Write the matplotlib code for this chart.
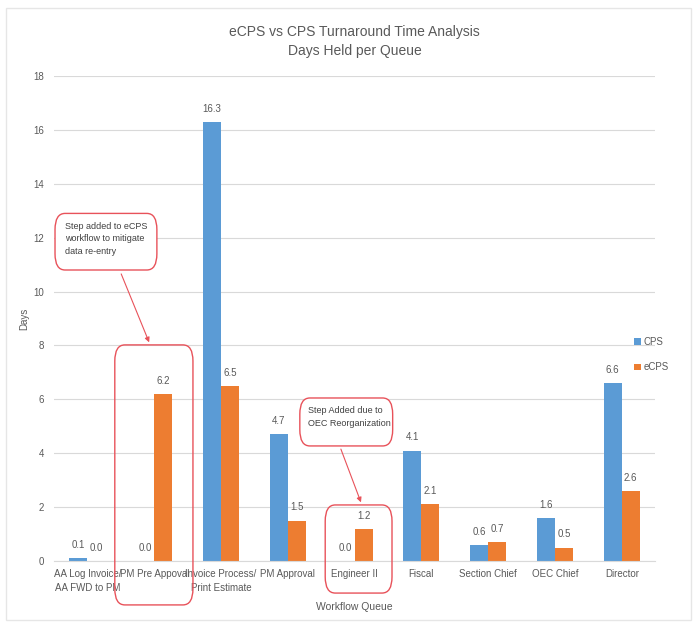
import numpy as np
import matplotlib.pyplot as plt
from matplotlib.patches import FancyBboxPatch, Rectangle

plt.rcParams['font.family'] = ['Liberation Sans', 'DejaVu Sans']

# Days held per queue
queues = ['AA Log Invoice/\nAA FWD to PM', 'PM Pre Appoval', 'Invoice Process/\nPrint Estimate',
          'PM Approval', 'Engineer II', 'Fiscal', 'Section Chief', 'OEC Chief', 'Director']
cps = [0.1, 0.0, 16.3, 4.7, 0.0, 4.1, 0.6, 1.6, 6.6]
ecps = [0.0, 6.2, 6.5, 1.5, 1.2, 2.1, 0.7, 0.5, 2.6]

blue = '#5B9BD5'
orange = '#ED7D31'
grey = '#595959'
red = '#E8525A'

fig = plt.figure(figsize=(6.97, 6.25), dpi=100)
ax = fig.add_axes([0.0775, 0.1024, 0.8625, 0.776])

# light frame round the chart
fig.patches.append(Rectangle((0.008, 0.008), 0.984, 0.98, transform=fig.transFigure,
                             fill=False, edgecolor='#E6E6E6', lw=1))

x = np.arange(len(queues))
w = 0.27
b1 = ax.bar(x - w / 2, cps, w, color=blue, label='CPS')
b2 = ax.bar(x + w / 2, ecps, w, color=orange, label='eCPS')

for bars, vals in [(b1, cps), (b2, ecps)]:
    for r, v in zip(bars, vals):
        ax.text(r.get_x() + r.get_width() / 2, v + 0.3, '%.1f' % v,
                ha='center', va='bottom', fontsize=7, color=grey)

ax.set_xlim(-0.5, len(queues) - 0.5)
ax.set_ylim(0, 18)
ax.set_yticks(np.arange(0, 19, 2))
ax.set_xticks(x)
ax.set_xticklabels(queues, fontsize=6.8, color=grey, va='top', linespacing=1.4)
ax.tick_params(axis='both', length=0, labelsize=7, labelcolor=grey)
ax.tick_params(axis='x', pad=6)
ax.tick_params(axis='y', pad=7)
ax.yaxis.grid(True, color='#D9D9D9', lw=0.8)
ax.set_axisbelow(True)
for s in ['top', 'right', 'left']:
    ax.spines[s].set_visible(False)
ax.spines['bottom'].set_color('#D9D9D9')

ax.set_ylabel('Days', fontsize=7, color=grey, labelpad=3)
ax.set_xlabel('Workflow Queue', fontsize=7.5, color=grey, labelpad=7)
ax.set_title('eCPS vs CPS Turnaround Time Analysis\nDays Held per Queue',
             fontsize=10, color=grey, pad=15, linespacing=1.5)

fig.legend(loc='upper left', bbox_to_anchor=(0.897, 0.475), frameon=False,
           fontsize=7, handlelength=0.7, handleheight=0.7, handletextpad=0.3,
           labelspacing=1.6, labelcolor=grey)

# callouts
def rbox(x0, y0, x1, y1, fc='none'):
    p = FancyBboxPatch((x0, y0), x1 - x0, y1 - y0, boxstyle='round,pad=0,rounding_size=0.15',
                       mutation_aspect=4, fc=fc, ec=red, lw=1, clip_on=False, zorder=5)
    ax.add_patch(p)

rbox(0.41, -1.63, 1.58, 8.02)
rbox(3.56, -1.19, 4.56, 2.08)
rbox(-0.485, 10.8, 1.04, 12.9, fc='white')
rbox(3.18, 4.27, 4.57, 6.05, fc='white')

ax.text(-0.33, 12.6, 'Step added to eCPS\nworkflow to mitigate\ndata re-entry', fontsize=6.5,
        color='#404040', va='top', ha='left', linespacing=1.5, zorder=6)
ax.text(3.3, 5.75, 'Step Added due to\nOEC Reorganization', fontsize=6.5,
        color='#404040', va='top', ha='left', linespacing=1.5, zorder=6)

ax.annotate('', xy=(0.94, 8.02), xytext=(0.49, 10.75),
            arrowprops=dict(arrowstyle='-|>', color=red, lw=0.8, mutation_scale=7),
            annotation_clip=False, zorder=6)
ax.annotate('', xy=(4.11, 2.08), xytext=(3.78, 4.25),
            arrowprops=dict(arrowstyle='-|>', color=red, lw=0.8, mutation_scale=7),
            annotation_clip=False, zorder=6)

plt.savefig('out.png')
